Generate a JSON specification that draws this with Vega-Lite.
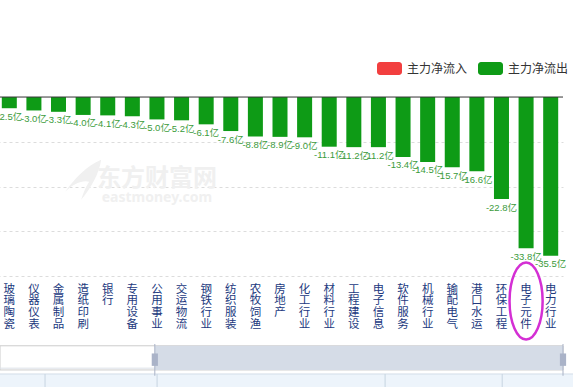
{
  "$schema": "https://vega.github.io/schema/vega-lite/v6.json",
  "width": 563,
  "height": 276,
  "autosize": {"type": "none"},
  "padding": {"left": 0, "top": 0, "right": 10, "bottom": 111},
  "background": "white",
  "config": {"view": {"stroke": null}, "font": "Noto Sans CJK SC"},
  "datasets": {
    "flows": [
      {"industry": "玻璃陶瓷", "value": -2.5, "flow": "主力净流出"},
      {"industry": "仪器仪表", "value": -3.0, "flow": "主力净流出"},
      {"industry": "金属制品", "value": -3.3, "flow": "主力净流出"},
      {"industry": "造纸印刷", "value": -4.0, "flow": "主力净流出"},
      {"industry": "银行", "value": -4.1, "flow": "主力净流出"},
      {"industry": "专用设备", "value": -4.3, "flow": "主力净流出"},
      {"industry": "公用事业", "value": -5.0, "flow": "主力净流出"},
      {"industry": "交运物流", "value": -5.2, "flow": "主力净流出"},
      {"industry": "钢铁行业", "value": -6.1, "flow": "主力净流出"},
      {"industry": "纺织服装", "value": -7.6, "flow": "主力净流出"},
      {"industry": "农牧饲渔", "value": -8.8, "flow": "主力净流出"},
      {"industry": "房地产", "value": -8.9, "flow": "主力净流出"},
      {"industry": "化工行业", "value": -9.0, "flow": "主力净流出"},
      {"industry": "材料行业", "value": -11.1, "flow": "主力净流出"},
      {"industry": "工程建设", "value": -11.2, "flow": "主力净流出"},
      {"industry": "电子信息", "value": -11.2, "flow": "主力净流出"},
      {"industry": "软件服务", "value": -13.4, "flow": "主力净流出"},
      {"industry": "机械行业", "value": -14.5, "flow": "主力净流出"},
      {"industry": "输配电气", "value": -15.7, "flow": "主力净流出"},
      {"industry": "港口水运", "value": -16.6, "flow": "主力净流出"},
      {"industry": "环保工程", "value": -22.8, "flow": "主力净流出"},
      {"industry": "电子元件", "value": -33.8, "flow": "主力净流出"},
      {"industry": "电力行业", "value": -35.5, "flow": "主力净流出"}
    ]
  },
  "layer": [
    {
      "layer": [
        {
          "data": {"values": [{}]},
          "mark": {"type": "text", "text": "东方财富网", "fontSize": 24, "fontWeight": "bold", "color": "#f0f0f0", "baseline": "middle", "font": "Noto Sans CJK SC"},
          "encoding": {
            "x": {"datum": "公用事业", "type": "nominal"},
            "y": {"datum": -18.3, "type": "quantitative"}
          }
        },
        {
          "data": {"values": [{}]},
          "mark": {"type": "text", "text": "eastmoney.com", "fontSize": 14, "fontWeight": "bold", "letterSpacing": 1, "color": "#f0f0f0", "baseline": "middle", "font": "Noto Sans"},
          "encoding": {
            "x": {"datum": "公用事业", "type": "nominal"},
            "y": {"datum": -22.6, "type": "quantitative"}
          }
        },
        {
          "data": {"values": [{}]},
          "mark": {"type": "point", "filled": true, "color": "#f0f0f0", "opacity": 1, "size": 1600, "dx": -9,
            "shape": "M0.9,-1C0.2,-0.7 -0.4,-0.1 -0.9,0.6C-0.5,0.2 0,0 0.3,0.1C0.1,0.4 0,0.7 -0.1,1C0.4,0.4 0.8,-0.3 0.9,-1Z"},
          "encoding": {
            "x": {"datum": "造纸印刷", "type": "nominal"},
            "y": {"datum": -18.5, "type": "quantitative"}
          }
        },
        {
          "data": {"name": "flows"},
          "mark": {"type": "bar"},
          "encoding": {
            "x": {
              "field": "industry", "type": "nominal", "sort": null,
              "scale": {
                "domain": ["玻璃陶瓷","仪器仪表","金属制品","造纸印刷","银行","专用设备","公用事业","交运物流","钢铁行业","纺织服装","农牧饲渔","房地产","化工行业","材料行业","工程建设","电子信息","软件服务","机械行业","输配电气","港口水运","环保工程","电子元件","电力行业"],
                "range": [-3, 563], "paddingInner": 0.39, "paddingOuter": 0.195
              },
              "axis": {
                "title": null, "domain": false, "ticks": false, "grid": false,
                "labelAngle": 0, "labelAlign": "center", "labelBaseline": "top",
                "labelExpr": "split(datum.label, '')",
                "labelFontSize": 11.5, "labelLineHeight": 11.8, "labelColor": "#22397e",
                "labelFont": "Noto Sans CJK SC", "labelPadding": 7, "labelOverlap": false
              }
            },
            "y": {
              "field": "value", "type": "quantitative",
              "scale": {"domain": [-40, 21.69], "nice": false, "zero": false},
              "axis": {
                "title": null, "values": [-40, -30, -20, -10], "labels": false, "ticks": false,
                "domain": false, "grid": true, "gridDash": [3, 3], "gridColor": "#dcdcdc"
              }
            },
            "color": {
              "field": "flow", "type": "nominal",
              "scale": {"domain": ["主力净流入", "主力净流出"], "range": ["#f23f3f", "#0e9b16"]},
              "legend": {
                "title": null, "orient": "none", "legendX": 377, "legendY": 56,
                "direction": "horizontal",
                "symbolType": "M-0.76,-0.52H0.76A0.24,0.24 0 0 1 1,-0.28V0.28A0.24,0.24 0 0 1 0.76,0.52H-0.76A0.24,0.24 0 0 1 -1,0.28V-0.28A0.24,0.24 0 0 1 -0.76,-0.52Z",
                "symbolSize": 625, "symbolStrokeWidth": 0, "symbolOpacity": 1,
                "labelFontSize": 12, "labelColor": "#333333", "labelOffset": 5,
                "columnPadding": 10, "labelFont": "Noto Sans CJK SC", "padding": 0
              }
            }
          }
        },
        {
          "data": {"name": "flows"},
          "mark": {
            "type": "text", "baseline": "middle", "dy": 8.5, "fontSize": 9.5, "letterSpacing": -0.3,
            "color": "#3b9b3b", "font": "Liberation Sans Narrow, Liberation Sans, Noto Sans CJK SC",
            "text": {"expr": "replace(format(datum.value, '.1f'), '−', '-') + '亿'"}
          },
          "encoding": {
            "x": {"field": "industry", "type": "nominal", "sort": null},
            "y": {"field": "value", "type": "quantitative"}
          }
        },
        {
          "data": {"values": [{}]},
          "mark": {"type": "rule", "color": "#333333", "strokeWidth": 1},
          "encoding": {"y": {"datum": 0, "type": "quantitative"}}
        },
        {
          "data": {"values": [{}]},
          "mark": {"type": "point", "filled": false, "stroke": "#d42fd4", "strokeWidth": 2.5, "opacity": 1, "size": 5929,
            "shape": "M0,-1A0.43,1 0 1 1 0,1A0.43,1 0 1 1 0,-1Z"},
          "encoding": {
            "x": {"datum": "电子元件", "type": "nominal"},
            "y": {"datum": -45.6, "type": "quantitative"}
          }
        }
      ]
    },
    {
      "data": {"values": [{}]},
      "layer": [
        {
          "mark": {"type": "rect", "fill": "#edf4fb"},
          "encoding": {
            "x": {"datum": 0, "type": "quantitative", "scale": {"domain": [0, 100], "nice": false, "zero": false}, "axis": null},
            "x2": {"datum": 102},
            "y": {"datum": -61.9, "type": "quantitative", "scale": {"domain": [-40, 21.69], "nice": false, "zero": false}, "axis": null},
            "y2": {"datum": -66}
          }
        },
        {
          "mark": {"type": "rule", "color": "#d3dde8", "strokeWidth": 1},
          "encoding": {
            "x": {"datum": 0, "type": "quantitative"}, "x2": {"datum": 102},
            "y": {"datum": -61.9, "type": "quantitative"}
          }
        },
        {
          "mark": {"type": "rule", "color": "#c7d4e1", "strokeWidth": 1},
          "encoding": {"x": {"datum": 8, "type": "quantitative"}, "y": {"datum": -61.9, "type": "quantitative"}, "y2": {"datum": -66}}
        },
        {
          "mark": {"type": "rule", "color": "#c7d4e1", "strokeWidth": 1},
          "encoding": {"x": {"datum": 27.9, "type": "quantitative"}, "y": {"datum": -61.9, "type": "quantitative"}, "y2": {"datum": -66}}
        },
        {
          "mark": {"type": "rule", "color": "#c7d4e1", "strokeWidth": 1},
          "encoding": {"x": {"datum": 68.4, "type": "quantitative"}, "y": {"datum": -61.9, "type": "quantitative"}, "y2": {"datum": -66}}
        },
        {
          "mark": {"type": "rule", "color": "#c7d4e1", "strokeWidth": 1},
          "encoding": {"x": {"datum": 89.2, "type": "quantitative"}, "y": {"datum": -61.9, "type": "quantitative"}, "y2": {"datum": -66}}
        },
        {
          "mark": {"type": "rect", "fill": "white", "stroke": "#cccccc", "strokeWidth": 1},
          "encoding": {
            "x": {"datum": 0, "type": "quantitative"}, "x2": {"datum": 100},
            "y": {"datum": -55.6, "type": "quantitative"}, "y2": {"datum": -61.0}
          }
        },
        {
          "mark": {"type": "rule", "color": "#dde1e8", "strokeWidth": 1},
          "encoding": {
            "x": {"datum": 0, "type": "quantitative"}, "x2": {"datum": 100},
            "y": {"datum": -60.6, "type": "quantitative"}
          }
        },
        {
          "mark": {"type": "rect", "fill": "#d5dce7"},
          "encoding": {
            "x": {"datum": 27.5, "type": "quantitative"}, "x2": {"datum": 100},
            "y": {"datum": -55.6, "type": "quantitative"}, "y2": {"datum": -61.0}
          }
        },
        {
          "mark": {"type": "rule", "color": "#a9b2c6", "strokeWidth": 1},
          "encoding": {"x": {"datum": 27.5, "type": "quantitative"}, "y": {"datum": -55.2, "type": "quantitative"}, "y2": {"datum": -62.3}}
        },
        {
          "mark": {"type": "rule", "color": "#a9b2c6", "strokeWidth": 1},
          "encoding": {"x": {"datum": 100, "type": "quantitative"}, "y": {"datum": -55.2, "type": "quantitative"}, "y2": {"datum": -62.3}}
        },
        {
          "mark": {"type": "point", "filled": true, "color": "#aab3c8", "opacity": 1, "size": 154, "shape": "M-0.5,-1H0.5V1H-0.5Z"},
          "encoding": {"x": {"datum": 27.5, "type": "quantitative"}, "y": {"datum": -58.7, "type": "quantitative"}}
        },
        {
          "mark": {"type": "point", "filled": true, "color": "#aab3c8", "opacity": 1, "size": 154, "shape": "M-0.5,-1H0.5V1H-0.5Z"},
          "encoding": {"x": {"datum": 100, "type": "quantitative"}, "y": {"datum": -58.7, "type": "quantitative"}}
        }
      ]
    }
  ],
  "resolve": {"scale": {"x": "independent", "y": "independent"}, "axis": {"x": "independent", "y": "independent"}}
}
